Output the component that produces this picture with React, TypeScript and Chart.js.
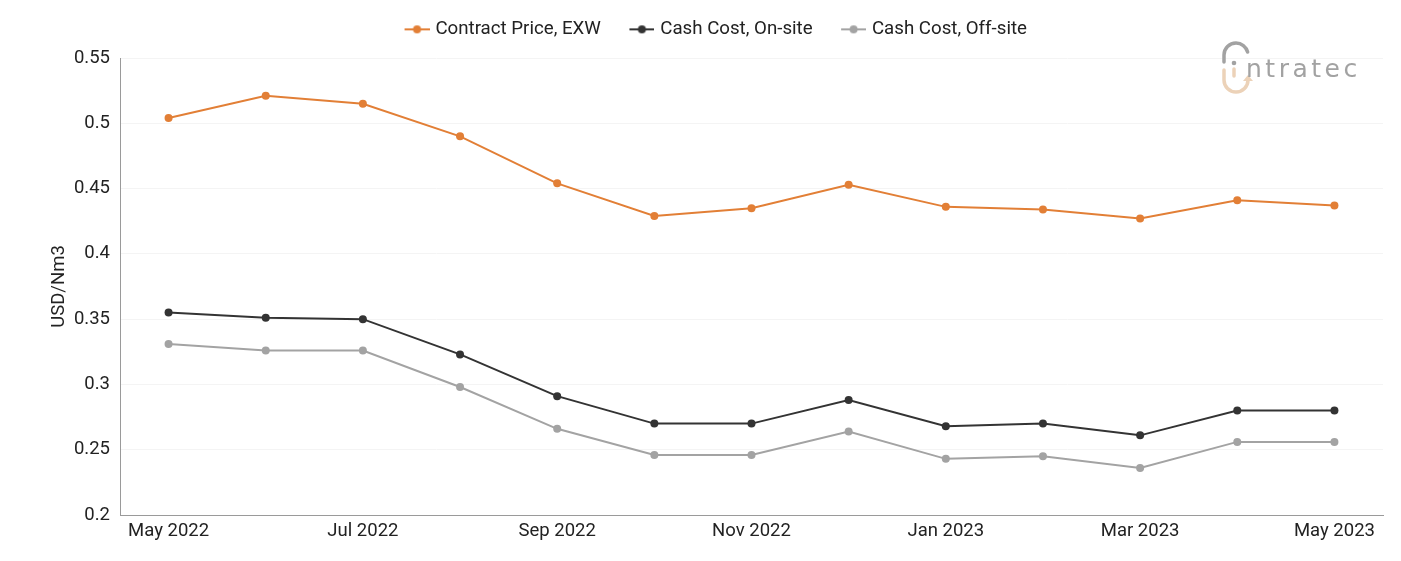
import React, { useEffect, useRef } from "react";
import { Chart, registerables } from "chart.js";

Chart.register(...registerables);

const months = [
  "May 2022", "Jun 2022", "Jul 2022", "Aug 2022", "Sep 2022", "Oct 2022", "Nov 2022",
  "Dec 2022", "Jan 2023", "Feb 2023", "Mar 2023", "Apr 2023", "May 2023",
];

const contractPrice = [0.504, 0.521, 0.515, 0.490, 0.454, 0.429, 0.435, 0.453, 0.436, 0.434, 0.427, 0.441, 0.437];
const cashCostOnSite = [0.355, 0.351, 0.350, 0.323, 0.291, 0.270, 0.270, 0.288, 0.268, 0.270, 0.261, 0.280, 0.280];
const cashCostOffSite = [0.331, 0.326, 0.326, 0.298, 0.266, 0.246, 0.246, 0.264, 0.243, 0.245, 0.236, 0.256, 0.256];

const yTicks = [0.2, 0.25, 0.3, 0.35, 0.4, 0.45, 0.5, 0.55];

const ORANGE = "#e27f36";
const DARK = "#333333";
const LIGHT = "#a3a3a3";
const TEXT = "#222222";
const FONT = "Roboto, 'Noto Sans', sans-serif";

// Legend marker: a short line with a dot, drawn to the right of some blank
// space so that legend entries sit further apart.
function makeMarker(color: string): HTMLCanvasElement {
  const c = document.createElement("canvas");
  c.width = 47;
  c.height = 10;
  const ctx = c.getContext("2d")!;
  const x0 = 22;
  ctx.strokeStyle = color;
  ctx.lineWidth = 2;
  ctx.beginPath();
  ctx.moveTo(x0, 5);
  ctx.lineTo(x0 + 25, 5);
  ctx.stroke();
  ctx.fillStyle = color;
  ctx.beginPath();
  ctx.arc(x0 + 12.5, 5, 4, 0, Math.PI * 2);
  ctx.fill();
  return c;
}

// Fixes the legend block height so the plot area starts below it.
const legendHeight = {
  id: "legendHeight",
  beforeInit(chart: any) {
    const legend = chart.legend;
    if (!legend) return;
    const fit = legend.fit;
    legend.fit = function () {
      fit.call(this);
      this.height = 48;
    };
  },
};

// Company mark in the top-right corner.
const logo = {
  id: "logo",
  afterDraw(chart: any) {
    const ctx = chart.ctx;
    ctx.save();
    const gray = "#a2a2a2";
    const tan = "#ecd2b8";
    ctx.lineCap = "round";
    ctx.lineWidth = 3.5;
    // upper arch
    ctx.strokeStyle = gray;
    ctx.beginPath();
    ctx.moveTo(1224, 62);
    ctx.lineTo(1224, 55);
    ctx.arc(1236, 55, 12, Math.PI, Math.PI * 1.92);
    ctx.stroke();
    // lower hook with arrow tip
    ctx.strokeStyle = tan;
    ctx.beginPath();
    ctx.moveTo(1224, 70);
    ctx.lineTo(1224, 80);
    ctx.arc(1236, 80, 12, Math.PI, 0, true);
    ctx.stroke();
    ctx.fillStyle = tan;
    ctx.beginPath();
    ctx.moveTo(1243, 81);
    ctx.lineTo(1253, 81);
    ctx.lineTo(1248, 75);
    ctx.closePath();
    ctx.fill();
    // letter i
    ctx.fillStyle = gray;
    ctx.beginPath();
    ctx.arc(1234, 63, 2.3, 0, Math.PI * 2);
    ctx.fill();
    ctx.strokeStyle = tan;
    ctx.beginPath();
    ctx.moveTo(1234, 69);
    ctx.lineTo(1234, 76);
    ctx.stroke();
    // word
    ctx.fillStyle = gray;
    ctx.font = `500 25px 'DejaVu Sans', ${FONT}`;
    (ctx as any).letterSpacing = "3.5px";
    ctx.textBaseline = "alphabetic";
    ctx.fillText("ntratec", 1246, 77);
    ctx.restore();
  },
};

export default function App() {
  const canvasRef = useRef<HTMLCanvasElement>(null);

  useEffect(() => {
    document.body.style.margin = "0";
    const markers = [makeMarker(ORANGE), makeMarker(DARK), makeMarker(LIGHT)];
    const chart = new Chart(canvasRef.current!, {
      type: "line",
      data: {
        labels: months,
        datasets: [
          { label: "Contract Price, EXW", data: contractPrice, borderColor: ORANGE, backgroundColor: ORANGE },
          { label: "Cash Cost, On-site", data: cashCostOnSite, borderColor: DARK, backgroundColor: DARK },
          { label: "Cash Cost, Off-site", data: cashCostOffSite, borderColor: LIGHT, backgroundColor: LIGHT },
        ].map((d) => ({
          ...d,
          borderWidth: 2,
          pointRadius: 4,
          pointHoverRadius: 4,
          pointBorderWidth: 0,
          tension: 0,
        })),
      },
      options: {
        animation: false,
        responsive: true,
        maintainAspectRatio: false,
        layout: { padding: { top: 10, right: 18, bottom: 0, left: 30 } },
        plugins: {
          tooltip: { enabled: false },
          legend: {
            position: "top",
            labels: {
              usePointStyle: true,
              pointStyleWidth: 40,
              padding: 10,
              color: TEXT,
              font: { family: FONT, size: 18.7 },
              generateLabels: (c: any) =>
                Chart.defaults.plugins.legend.labels
                  .generateLabels(c)
                  .map((l: any, i: number) => ({ ...l, pointStyle: markers[i] })),
            },
          },
        },
        scales: {
          x: {
            type: "category",
            offset: true,
            grid: { display: false, drawTicks: false },
            border: { display: true, color: "#9a9a9a", width: 1 },
            ticks: {
              autoSkip: false,
              maxRotation: 0,
              padding: 5,
              color: TEXT,
              font: { family: FONT, size: 18.5 },
              callback: (_v: any, i: number) => (i % 2 === 0 ? months[i] : ""),
            },
            afterFit: (s: any) => {
              s.height = 46;
            },
          },
          y: {
            min: 0.2,
            max: 0.55,
            afterBuildTicks: (s: any) => {
              s.ticks = yTicks.map((v) => ({ value: v }));
            },
            grid: { color: "#f4f4f4", drawTicks: false },
            border: { display: true, color: "#9a9a9a", width: 1 },
            ticks: {
              padding: 10,
              color: TEXT,
              font: { family: FONT, size: 18.5 },
              callback: (v: any) => String(Number(v)),
            },
            title: {
              display: true,
              text: "USD/Nm3",
              color: TEXT,
              font: { family: FONT, size: 18.5 },
              padding: { top: 18, bottom: 0 },
            },
            afterFit: (s: any) => {
              s.width = 90;
            },
          },
        },
      },
      plugins: [legendHeight, logo],
    });
    return () => chart.destroy();
  }, []);

  return (
    <div style={{ width: 1401, height: 561, position: "relative" }}>
      <canvas ref={canvasRef} />
    </div>
  );
}
